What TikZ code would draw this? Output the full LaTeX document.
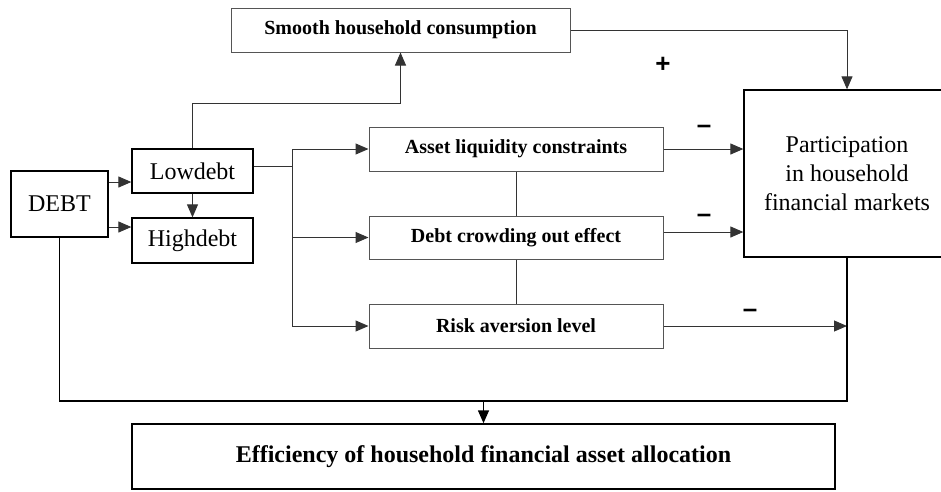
\documentclass[tikz,border=0pt]{standalone}
\usepackage{fontspec}
\setmainfont{Liberation Serif}
\newfontfamily\signfont{Liberation Sans}
\usetikzlibrary{arrows.meta, calc, positioning}
\definecolor{edgegray}{HTML}{333333}
\definecolor{boxgray}{HTML}{555555}
\tikzstyle{line} = [draw, edgegray, line width=1pt, -{Triangle[length=13pt,width=11pt]}]
\tikzstyle{link} = [draw, edgegray, line width=1pt]
\tikzstyle{loopline} = [draw, black, line width=1.5pt]
\tikzstyle{block} = [rectangle, draw, black, line width=1.3pt, text centered, inner sep=0pt, font=\fontsize{24}{29}\selectfont]
\tikzstyle{effect} = [rectangle, draw, boxgray, text=black, line width=1pt, text centered, inner sep=0pt, font=\fontsize{20}{24}\selectfont\bfseries, minimum width=294pt, minimum height=44pt]
\tikzstyle{sign} = [font=\signfont\fontsize{26}{26}\selectfont\bfseries, inner sep=0pt]

\begin{document}
\begin{tikzpicture}[x=1pt, y=-1pt]
\clip (0,0) rectangle (941,491);
\node [block, minimum width=97pt, minimum height=66pt] (debt) at (59.5,204) {DEBT};
\node [block, minimum width=121pt, minimum height=44pt] (low) at (192.5,171) {Lowdebt};
\node [block, minimum width=121pt, minimum height=45pt] (high) at (192.5,240.5) {Highdebt};
\node [effect, minimum width=339pt] (smooth) at (400.5,30) {Smooth household consumption};
\node [effect] (asset) at (516,149) {Asset liquidity constraints};
\node [effect, minimum height=43pt] (crowd) at (516,237.5) {Debt crowding out effect};
\node [effect] (risk) at (516,326) {Risk aversion level};
\node [block, minimum width=206pt, minimum height=167pt, align=center] (part) at (847,173.5) {Participation\\in household\\financial markets};
\node [block, line width=1.5pt, minimum width=703pt, minimum height=65pt, font=\fontsize{24}{28}\selectfont\bfseries] (eff) at (483.5,456.5) {Efficiency of household financial asset allocation};
\coordinate (fork) at (292,166);
\coordinate (join) at (483.5,401);

% debt split
\path [line] ([yshift=22pt]debt.east) -- ([yshift=22pt]debt.east -| low.west);
\path [line] ([yshift=-23pt]debt.east) -- ([yshift=-23pt]debt.east -| high.west);
\path [line] (low) -- (high);
\path [line] (low.north) -- ++(0,-45) -| (smooth.south);

% channels
\path [link] ([yshift=5pt]low.east) -- (fork);
\path [link] (asset.west -| fork) -- (risk.west -| fork);
\path [line] (asset.west -| fork) -- (asset.west);
\path [line] (crowd.west -| fork) -- (crowd.west);
\path [line] (risk.west -| fork) -- (risk.west);
\path [link] (asset) -- (crowd);
\path [link] (crowd) -- (risk);
\path [line] (smooth.east) -| (part.north);
\path [line] (asset.east) -- (asset.east -| part.west);
\path [line] ([yshift=5.5pt]crowd.east) -- ([yshift=5.5pt]crowd.east -| part.west);
\path [line] (risk.east) -- (risk.east -| part.south);

% into efficiency
\path [loopline] (debt.south) |- (join);
\path [loopline] (part.south) |- (join);
\path [line, black, line width=1.5pt] (join) -- (eff.north);

\node [sign] (plus) at (663,65) {+};
\node [sign] (minusA) at (704,129) {–};
\node [sign] (minusB) at (704,218) {–};
\node [sign] (minusC) at (750,313) {–};
\end{tikzpicture}
\end{document}
